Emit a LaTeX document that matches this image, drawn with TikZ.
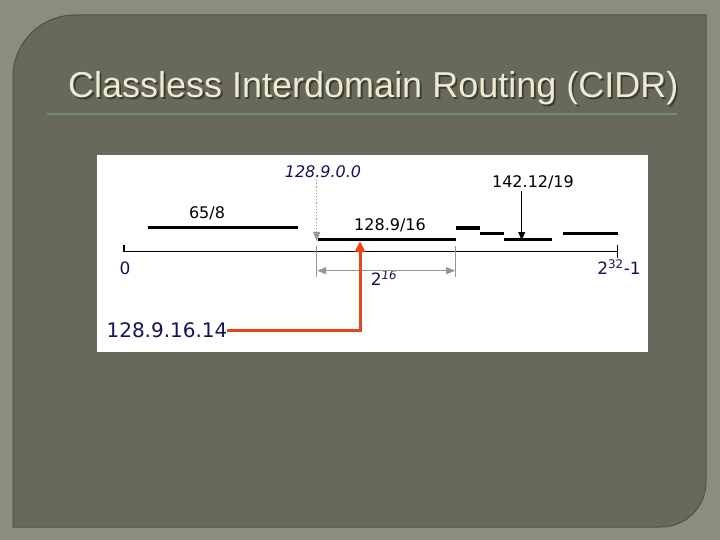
\documentclass[tikz,border=0pt]{standalone}
\usepackage{fontspec}
\setmainfont{DejaVu Sans}
\newfontfamily\titlefont{Liberation Sans}
\usetikzlibrary{arrows.meta}
\definecolor{outerbg}{RGB}{139,142,125}
\definecolor{panelbg}{RGB}{104,105,91}
\definecolor{paneledge}{RGB}{80,81,70}
\definecolor{titlecol}{RGB}{236,236,210}
\definecolor{titleshadow}{RGB}{60,60,52}
\definecolor{rulecol}{RGB}{118,138,112}
\definecolor{navy}{RGB}{20,20,90}
\definecolor{grayarr}{RGB}{150,150,150}
\definecolor{redarr}{RGB}{232,70,28}
\newcommand{\slidetitletext}{Classless Interdomain Routing (CIDR)}
\tikzset{
  bar/.style={line width=3.5pt},
  axisline/.style={line width=1.4pt},
  lbl/.style={inner sep=0pt, font=\fontsize{16}{18}\selectfont},
  nlbl/.style={inner sep=0pt, text=navy, font=\fontsize{17}{19}\selectfont},
  grayline/.style={grayarr, line width=1pt},
  graytip/.style={-{Triangle[width=7pt,length=9pt]}},
}
\begin{document}
\begin{tikzpicture}[x=1pt,y=-1pt]
\useasboundingbox (0,0) rectangle (720,540);
% slide background
\fill[outerbg] (0,0) rectangle (720,540);
\fill[panelbg, draw=paneledge, line width=1pt]
  (13,527) -- (13,77) arc (180:270:62) -- (706,15) -- (706,482) arc (0:90:45) -- cycle;
% title (with drop shadow inside the same node)
\node[anchor=base west, inner sep=0pt, text=titlecol, font=\titlefont\fontsize{36}{40}\selectfont] (title) at (68,97.7)
  {\makebox[0pt][l]{\kern1.8pt\raisebox{-1.6pt}{\color{titleshadow}\slidetitletext}}\slidetitletext};
\coordinate (r0) at (47,114);
\coordinate (r1) at (677,114);
\draw[rulecol, line width=1.2pt] (r0) -- (r1);
% white diagram area
\fill[white] (97,155) rectangle (648,352);
% axis
\coordinate (ax0) at (124,251.7);
\coordinate (ax1) at (617.7,251.7);
\coordinate (t0) at (124,245);
\coordinate (t1a) at (617.7,244.5);
\coordinate (t1b) at (617.7,258);
\draw[axisline] (ax0) -- (ax1);
\draw[axisline] (t0) -- (ax0);
\draw[axisline] (t1a) -- (t1b);
% bars
\coordinate (a0) at (148,227.7);   \coordinate (a1) at (298,227.7);
\coordinate (p0) at (317.7,239.3); \coordinate (p1) at (455.7,239.3);
\coordinate (b10) at (455.7,228);  \coordinate (b11) at (479.5,228);
\coordinate (b20) at (479.5,233.5);\coordinate (b21) at (504,233.5);
\coordinate (b30) at (503.5,239.3);\coordinate (b31) at (551.7,239.3);
\coordinate (b40) at (563,233.5);  \coordinate (b41) at (617.7,233.5);
\draw[bar] (a0) -- (a1);
\draw[bar] (p0) -- (p1);
\draw[bar] (b10) -- (b11);
\draw[bar] (b20) -- (b21);
\draw[bar] (b30) -- (b31);
\draw[bar] (b40) -- (b41);
% labels
\node[lbl] (l658) at (207,213) {65/8};
\node[lbl] (l1289) at (390,225) {128.9/16};
\node[lbl] (l142) at (533,182) {142.12/19};
\node[nlbl, font=\fontsize{16}{18}\selectfont\itshape] (l1290) at (323,172) {128.9.0.0};
\node[nlbl] (lzero) at (125,268) {0};
\node[nlbl] (lmax) at (619,267) {2\textsuperscript{32}-1};
\node[nlbl] (l216) at (384,278) {2\textsuperscript{\itshape 16}};
\node[nlbl, font=\fontsize{20}{22}\selectfont] (laddr) at (167,330) {128.9.16.14};
% 128.9.0.0 pointer
\coordinate (d0) at (316.7,180);
\coordinate (d1) at (316.7,241);
\draw[grayline, line width=1.2pt, dotted, graytip] (d0) -- (d1);
% 2^16 span
\coordinate (g0a) at (316.7,245.5); \coordinate (g0b) at (316.7,277);
\coordinate (g1a) at (455.7,245.5); \coordinate (g1b) at (455.7,277);
\coordinate (s0) at (317.2,270.7);  \coordinate (s1) at (455.2,270.7);
\draw[grayline] (g0a) -- (g0b);
\draw[grayline] (g1a) -- (g1b);
\draw[grayline, {Triangle[width=7pt,length=9pt]}-{Triangle[width=7pt,length=9pt]}] (s0) -- (s1);
% 142.12/19 pointer
\coordinate (k0) at (521.7,191.5);
\coordinate (k1) at (521.7,240);
\draw[line width=1pt, -{Triangle[width=7pt,length=8pt]}] (k0) -- (k1);
% red lookup arrow
\coordinate (rd0) at (227,330.7);
\coordinate (rd1) at (360,241);
\draw[redarr, line width=3pt, -{Triangle[width=10pt,length=11pt]}] (rd0) -| (rd1);
\end{tikzpicture}
\end{document}
